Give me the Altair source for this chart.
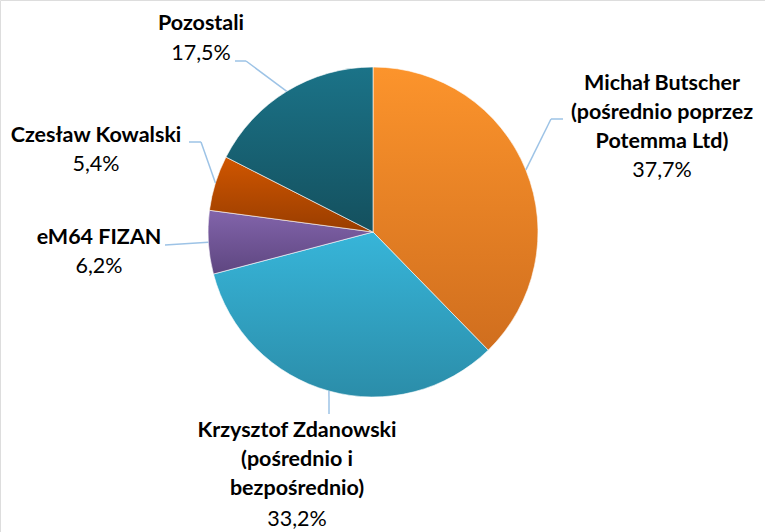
import altair as alt
import pandas as pd

# ---- data ----
names = [
    "Michał Butscher\n(pośrednio poprzez\nPotemma Ltd)",
    "Krzysztof Zdanowski\n(pośrednio i\nbezpośrednio)",
    "eM64 FIZAN",
    "Czesław Kowalski",
    "Pozostali",
]
shares = [37.7, 33.2, 6.2, 5.4, 17.5]

# ---- styling / layout (not data) ----
grad_top = ["#FC942C", "#37B5D9", "#8264AB", "#D05600", "#1B7388"]
grad_bot = ["#D06E1E", "#2B8DA9", "#5E4680", "#993D00", "#14505E"]
name_x = [662, 297, 99, 96, 201]
name_y = [73, 420, 227, 125, 13]
pct_y = [171, 520, 267, 165, 54]
elbow_x = [551, 329, 165, 201, 246]
elbow_y = [119, 414, 245, 142, 61]
end_x = [563, 329, 165, 189, 235]
end_y = [119, 414, 245, 142, 61]

CX, CY, R = 373, 232, 165
FONT = "Lato"
FS = 21.5
LH = 29

df = pd.DataFrame({
    "name": names, "value": shares,
    "nx": name_x, "ny": name_y, "py": pct_y,
    "bx": elbow_x, "by": elbow_y, "ex": end_x, "ey": end_y,
})

base = alt.Chart(df).transform_window(
    cum="sum(value)", frame=[None, 0]
).transform_calculate(
    start="datum.cum - datum.value",
    mid="(datum.cum - datum.value/2) / 100 * 2 * PI",
).transform_calculate(
    sx=f"{CX} + {R} * sin(datum.mid)",
    sy=f"{CY} - {R} * cos(datum.mid)",
    pct="replace(format(datum.value, '.1f'), '.', ',') + '%'",
)

theta_scale = alt.Scale(domain=[0, 100], range=[0, 6.283185307179586])

layers = []
for i, n in enumerate(names):
    fill = {
        "gradient": "linear",
        "x1": 0, "y1": 0, "x2": 0, "y2": 1,
        "stops": [
            {"offset": 0, "color": grad_top[i]},
            {"offset": 1, "color": grad_bot[i]},
        ],
    }
    layers.append(
        base.transform_filter(alt.datum.name == n).mark_arc(
            outerRadius=R, fill=fill, stroke="#FFFFFF", strokeWidth=0.6
        ).encode(
            theta=alt.Theta("start:Q", scale=theta_scale),
            theta2="cum:Q",
            x=alt.value(CX),
            y=alt.value(CY),
        )
    )

leader1 = base.mark_rule(color="#9DC3E6", strokeWidth=1.5).encode(
    x=alt.X("sx:Q", scale=None, axis=None),
    y=alt.Y("sy:Q", scale=None, axis=None),
    x2="bx:Q",
    y2="by:Q",
)
leader2 = base.mark_rule(color="#9DC3E6", strokeWidth=1.5).encode(
    x=alt.X("bx:Q", scale=None, axis=None),
    y=alt.Y("by:Q", scale=None, axis=None),
    x2="ex:Q",
    y2="ey:Q",
)

name_text = base.transform_calculate(
    lines="split(datum.name, '\\n')"
).mark_text(
    font=FONT, fontSize=FS, fontWeight="bold", color="#000000",
    align="center", baseline="top", lineHeight=LH,
).encode(
    x=alt.X("nx:Q", scale=None, axis=None),
    y=alt.Y("ny:Q", scale=None, axis=None),
    text="lines:N",
)

pct_text = base.mark_text(
    font=FONT, fontSize=FS, color="#000000",
    align="center", baseline="middle",
).encode(
    x=alt.X("nx:Q", scale=None, axis=None),
    y=alt.Y("py:Q", scale=None, axis=None),
    text="pct:N",
)

chart = alt.layer(*layers, leader1, leader2, name_text, pct_text).properties(
    width=765, height=532,
    autosize=alt.AutoSizeParams(type="none"),
    padding=0,
).configure_view(stroke=None).configure(background="#FFFFFF")

chart.save("out.html", embed_options={"renderer": "svg", "actions": False})
